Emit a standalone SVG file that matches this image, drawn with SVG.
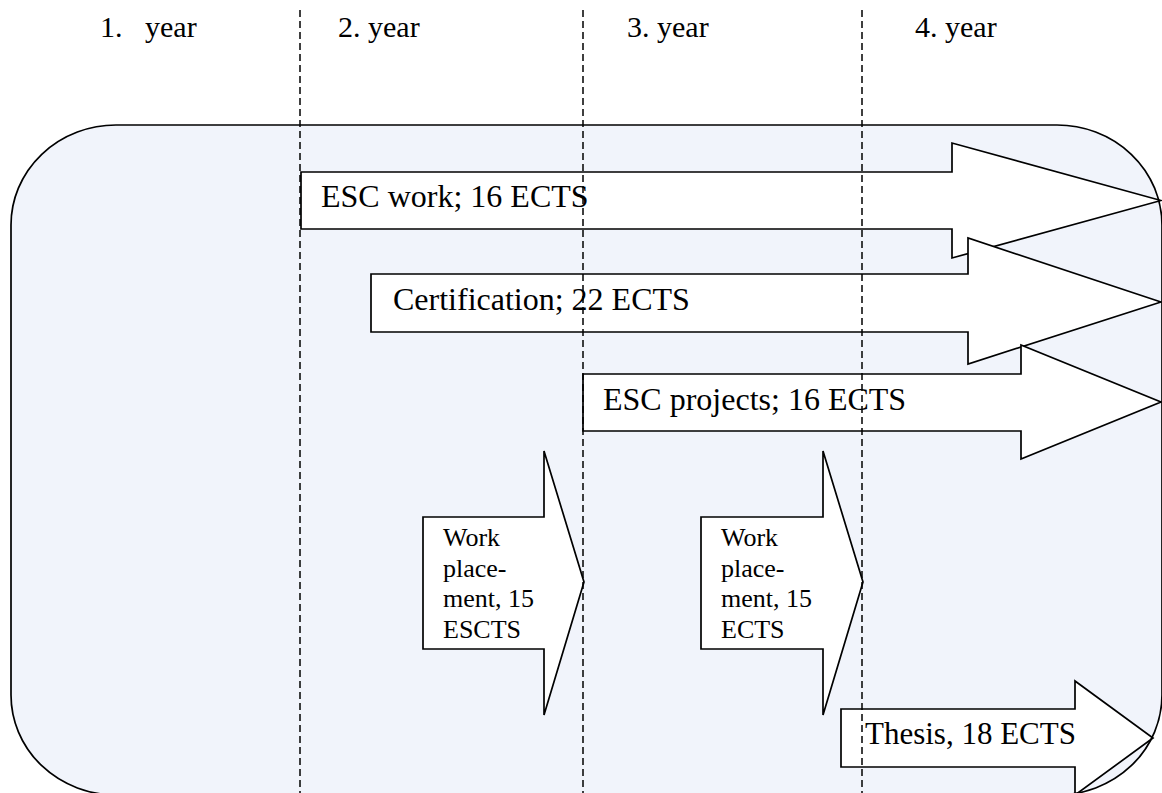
<svg xmlns="http://www.w3.org/2000/svg" width="1162" height="793" viewBox="0 0 1162 793">
<style>
.t{font-family:"Liberation Serif","Times New Roman",serif;fill:#000}
.yr{font-size:30px}
.lbl{font-size:32px}
.sm{font-size:26px}
.arrow{fill:#fff;stroke:#000;stroke-width:1.7;stroke-linejoin:miter}
.div{stroke:#000;stroke-width:1.5;stroke-dasharray:7 4;fill:none}
</style>
<rect width="1162" height="793" fill="#fff"/>
<g id="frame-fill">
<rect x="11" y="125" width="1151" height="670" rx="105" ry="100" fill="#f1f4fb"/>
</g>
<g id="year-labels">
<text class="t yr" x="100" y="37">1.<tspan x="145">year</tspan></text>
<text class="t yr" x="338" y="37">2. year</text>
<text class="t yr" x="627" y="37">3. year</text>
<text class="t yr" x="915" y="37">4. year</text>
</g>
<g id="esc-work">
<path class="arrow" d="M301,172 H952 V143 L1161,200.5 L952,258 V229 H301 Z"/>
<text class="t lbl" x="321" y="207">ESC work; 16 ECTS</text>
</g>
<g id="certification">
<path class="arrow" d="M371,274 H968 V238 L1161,302 L968,364 V332 H371 Z"/>
<text class="t lbl" x="393" y="310">Certification; 22 ECTS</text>
</g>
<g id="esc-projects">
<path class="arrow" d="M583,374 H1021 V345 L1161,402 L1021,459 V431 H583 Z"/>
<text class="t lbl" x="603" y="410">ESC projects; 16 ECTS</text>
</g>
<g id="work-placement-1">
<path class="arrow" d="M423,517 H544 V451 L584,582 L544,715 V649 H423 Z"/>
<text class="t sm" x="443" y="546">Work<tspan x="443" y="577">place-</tspan><tspan x="443" y="607">ment, 15</tspan><tspan x="443" y="638">ESCTS</tspan></text>
</g>
<g id="work-placement-2">
<path class="arrow" d="M701,517 H823 V451 L863,582 L823,715 V649 H701 Z"/>
<text class="t sm" x="721" y="546">Work<tspan x="721" y="577">place-</tspan><tspan x="721" y="607">ment, 15</tspan><tspan x="721" y="638">ECTS</tspan></text>
</g>
<g id="thesis">
<path class="arrow" d="M841,709 H1075 V681 L1153,738 L1075,795 V767 H841 Z"/>
<text class="t" style="font-size:31px" x="865" y="744">Thesis, 18 ECTS</text>
</g>
<g id="frame-outline">
<rect x="11" y="125" width="1151" height="670" rx="105" ry="100" fill="none" stroke="#000" stroke-width="1.7"/>
</g>
<g id="connectors">
<line class="div" x1="300" y1="10" x2="300" y2="793"/>
<line class="div" x1="583" y1="10" x2="583" y2="793"/>
<line class="div" x1="862" y1="10" x2="862" y2="793"/>
</g>
</svg>
